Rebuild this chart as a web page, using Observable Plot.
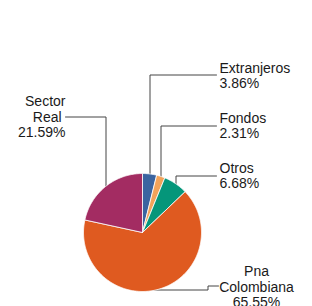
<!DOCTYPE html>
<html><head><meta charset="utf-8">
<script src="https://cdn.jsdelivr.net/npm/d3@7"></script>
<script src="https://cdn.jsdelivr.net/npm/@observablehq/plot@0.6"></script>
<style>body{margin:0;background:#fff} svg{display:block}</style>
</head><body><div id="chart"></div>
<script>
// ---- data ----
const categories = ["Extranjeros", "Fondos", "Otros", "Pna Colombiana", "Sector Real"];
const labelTexts = ["Extranjeros", "Fondos", "Otros", "Pna\nColombiana", "Sector\nReal\u00a0"];
const shares = [3.86, 2.31, 6.68, 65.55, 21.59];
const colors = ["#3b64a0", "#f2a35a", "#05967a", "#df5a20", "#a32c62"];

// ---- layout ----
const W = 312, H = 306, cx = 142, cy = 232, r = 59;
const total = d3.sum(shares);
const fmt = v => v.toFixed(2) + "%";

// slice polygons
const slicePts = [];
const mids = [];
let acc = 0;
categories.forEach((c, i) => {
  const a0 = acc / total * 2 * Math.PI; acc += shares[i];
  const a1 = acc / total * 2 * Math.PI;
  mids.push((a0 + a1) / 2);
  const n = Math.max(2, Math.ceil((a1 - a0) / (Math.PI / 180)));
  slicePts.push({cat: c, x: cx, y: cy});
  for (let k = 0; k <= n; k++) {
    const a = a0 + (a1 - a0) * k / n;
    slicePts.push({cat: c, x: cx + r * Math.sin(a), y: cy - r * Math.cos(a)});
  }
  slicePts.push({cat: c, x: cx, y: cy});
});

const ax = i => Math.round(cx + r * Math.sin(mids[i])) + 0.5;
// leader polylines (drawn under the pie, so they stop at its edge)
const leaderDefs = [
  [[ax(0), cy], [ax(0), 74.5], [216, 74.5]],
  [[ax(1), cy], [ax(1), 125.5], [216, 125.5]],
  [[ax(2), cy], [ax(2), 175.5], [216, 175.5]],
  [[150, 289.5], [207.5, 289.5], [207.5, 285.5], [218, 285.5]],
  [[105.5, 200], [105.5, 116.5], [65, 116.5]]
];
const leaders = leaderDefs.flatMap((pts, i) => pts.map(([x, y]) => ({cat: categories[i], x, y})));

const labelPos = [
  {x: 219, y: 75, anchor: "start"},
  {x: 219, y: 125, anchor: "start"},
  {x: 219, y: 175, anchor: "start"},
  {x: 256, y: 286, anchor: "middle"},
  {x: 65, y: 116, anchor: "end"}
];
const labels = categories.map((c, i) => ({
  text: labelTexts[i] + "\n" + fmt(shares[i]),
  x: labelPos[i].x, y: labelPos[i].y, anchor: labelPos[i].anchor
}));

const textOpts = {x: "x", y: "y", text: "text", lineAnchor: "middle", fontSize: 14,
  fontFamily: "Liberation Sans, Arial, sans-serif", fill: "#1a1a1a", lineHeight: 1.13};

const chart = Plot.plot({
  width: W, height: H, margin: 0,
  style: {background: "#fff", fontFamily: "Liberation Sans, Arial, sans-serif"},
  x: {domain: [0, W], range: [0, W], axis: null},
  y: {domain: [0, H], range: [0, H], axis: null},
  color: {domain: categories, range: colors},
  marks: [
    Plot.line(leaders, {x: "x", y: "y", z: "cat", stroke: "#444", strokeWidth: 1, curve: "linear"}),
    Plot.line(slicePts, {x: "x", y: "y", z: "cat", fill: "cat", stroke: "white", strokeWidth: 0.8, strokeLinejoin: "round", curve: "linear"}),
    Plot.text(labels.filter(d => d.anchor === "start"), {...textOpts, textAnchor: "start"}),
    Plot.text(labels.filter(d => d.anchor === "middle"), {...textOpts, textAnchor: "middle"}),
    Plot.text(labels.filter(d => d.anchor === "end"), {...textOpts, textAnchor: "end"})
  ]
});
document.getElementById("chart").appendChild(chart);
</script>
</body></html>
